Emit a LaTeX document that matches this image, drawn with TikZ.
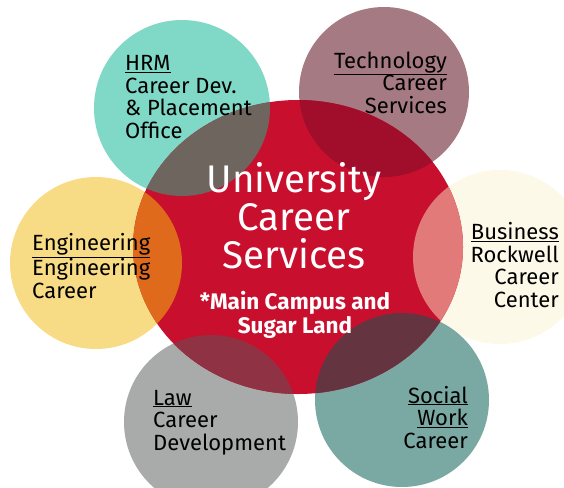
\documentclass[tikz,border=0pt]{standalone}
\usepackage{fontspec}
\setmainfont{Fira Sans}
\usepackage{xcolor}

\definecolor{ucsred}{HTML}{C8102E}
\definecolor{hrmteal}{HTML}{80D8C6}
\definecolor{techmauve}{HTML}{A67A82}
\definecolor{engyellow}{HTML}{F8DB85}
\definecolor{buscream}{HTML}{FDF9E8}
\definecolor{lawgray}{HTML}{A8ABAA}
\definecolor{socteal}{HTML}{7AA9A4}
% colours where a circle lies over the red one
\definecolor{hrmover}{HTML}{6E655F}
\definecolor{techover}{HTML}{A10E2C}
\definecolor{engover}{HTML}{E06A1B}
\definecolor{busover}{HTML}{E27A7A}
\definecolor{lawover}{HTML}{8E3244}
\definecolor{socover}{HTML}{643540}

\tikzset{
  unitlabel/.style={inner sep=0pt, font=\fontsize{22}{22.5}\selectfont},
  hublabel/.style={inner sep=0pt, white, align=center}
}

\begin{document}
\begin{tikzpicture}[x=1pt, y=-1pt]
    \useasboundingbox (0,0) rectangle (564,487);
    \clip (0,0) rectangle (564,487);

    % Outer circles
    \fill[hrmteal] (182,108) circle (88);
    \fill[techmauve] (384,92) circle (85);
    \fill[engyellow] (96,263) circle (86);
    \fill[buscream] (500,257) circle (87);
    \fill[lawgray] (211,422) circle (87);
    \fill[socteal] (402,400) circle (87);

    % Central circle
    \fill[ucsred] (298,247) ellipse (165 and 147);

    % Overlaps with the central circle
    \begin{scope}
        \clip (298,247) ellipse (165 and 147);
        \fill[hrmover] (182,108) circle (88);
        \fill[techover] (384,92) circle (85);
        \fill[engover] (96,263) circle (86);
        \fill[busover] (500,257) circle (87);
        \fill[lawover] (211,422) circle (87);
        \fill[socover] (402,400) circle (87);
    \end{scope}

    % Labels of the outer circles (anchored at the last line)
    \node[unitlabel, anchor=base west, align=left] (hrm) at (125,138)
        {\underline{HRM}\\Career Dev.\\\& Placement\\Office};
    \node[unitlabel, anchor=base east, align=right] (tech) at (447,113)
        {\underline{Technology}\\Career\\Services};
    \node[unitlabel, anchor=base west, align=left] (eng) at (32,298)
        {\underline{Engineering}\\Engineering\\Career};
    \node[unitlabel, anchor=base east, align=right] (bus) at (559,307)
        {\underline{Business}\\Rockwell\\Career\\Center};
    \node[unitlabel, anchor=base west, align=left] (law) at (153,450)
        {\underline{Law}\\Career\\Development};
    \node[unitlabel, anchor=base east, align=right] (soc) at (468,448)
        {\underline{Social}\\\underline{Work}\\Career};

    % Central labels
    \node[hublabel, anchor=base, font=\fontsize{38.5}{38}\selectfont] (hub) at (294,268)
        {University\\Career\\Services};
    \node[hublabel, anchor=base, font=\bfseries\fontsize{22.5}{21.5}\selectfont] (campus) at (295,333)
        {*Main Campus and\\Sugar Land};
\end{tikzpicture}
\end{document}
